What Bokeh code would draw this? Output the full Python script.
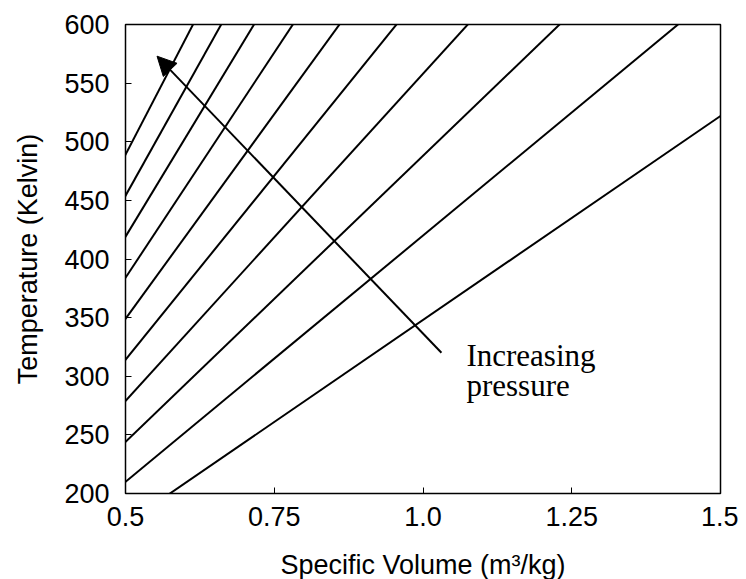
from bokeh.plotting import figure
from bokeh.models import Range1d, Arrow, NormalHead, FixedTicker, Label
from bokeh.embed import file_html
from bokeh.resources import INLINE

# isobar slopes T/v (K per m^3/kg)
slopes = [348, 420, 488, 558, 628, 698, 768, 838, 908, 978]
x_ticks = [0.5, 0.75, 1.0, 1.25, 1.5]
x_tick_labels = ["0.5", "0.75", "1.0", "1.25", "1.5"]
y_ticks = [200, 250, 300, 350, 400, 450, 500, 550, 600]
arrow_start = (1.031, 320)
arrow_end = (0.553, 573)
note_lines = ["Increasing", "pressure"]
note_pos = [(1.073, 318), (1.073, 292)]

p = figure(frame_width=595, frame_height=469, output_backend="svg",
           toolbar_location=None, x_range=Range1d(0.5, 1.5), y_range=Range1d(200, 600),
           min_border_left=125, min_border_right=18, min_border_top=24, min_border_bottom=80)
p.grid.visible = False
p.outline_line_color = "black"
p.outline_line_width = 1.5
p.background_fill_color = "white"

v_lo, v_hi = 0.0, 1.6
for k in slopes:
    p.line([v_lo, v_hi], [k * v_lo, k * v_hi], line_color="black", line_width=2)

p.add_layout(Arrow(end=NormalHead(size=19, fill_color="black", line_color="black"),
                   x_start=arrow_start[0], y_start=arrow_start[1],
                   x_end=arrow_end[0], y_end=arrow_end[1],
                   line_color="black", line_width=2))

for txt, (tx, ty) in zip(note_lines, note_pos):
    p.add_layout(Label(x=tx, y=ty, text=txt, text_font="Liberation Serif",
                       text_font_size="31px", text_baseline="middle", text_align="left",
                       text_color="black"))

for ax in (p.xaxis[0], p.yaxis[0]):
    ax.major_tick_in = 6
    ax.major_tick_out = 0
    ax.minor_tick_line_color = None
    ax.axis_line_color = "black"
    ax.major_tick_line_color = "black"
    ax.major_label_text_font = "Liberation Sans"
    ax.major_label_text_font_size = "27px"
    ax.major_label_text_color = "black"
    ax.axis_label_text_font = "Liberation Sans"
    ax.axis_label_text_font_size = "27px"
    ax.axis_label_text_font_style = "normal"
    ax.axis_label_text_color = "black"

p.xaxis.ticker = FixedTicker(ticks=x_ticks)
p.xaxis.major_label_overrides = {t: l for t, l in zip(x_ticks, x_tick_labels)}
p.yaxis.ticker = FixedTicker(ticks=y_ticks)
p.xaxis.axis_label = "Specific Volume (m³/kg)"
p.yaxis.axis_label = "Temperature (Kelvin)"
p.xaxis.major_label_standoff = 13
p.yaxis.major_label_standoff = 16
p.xaxis.axis_label_standoff = 21
p.yaxis.axis_label_standoff = 18

open("out.html", "w").write(file_html(p, INLINE))
